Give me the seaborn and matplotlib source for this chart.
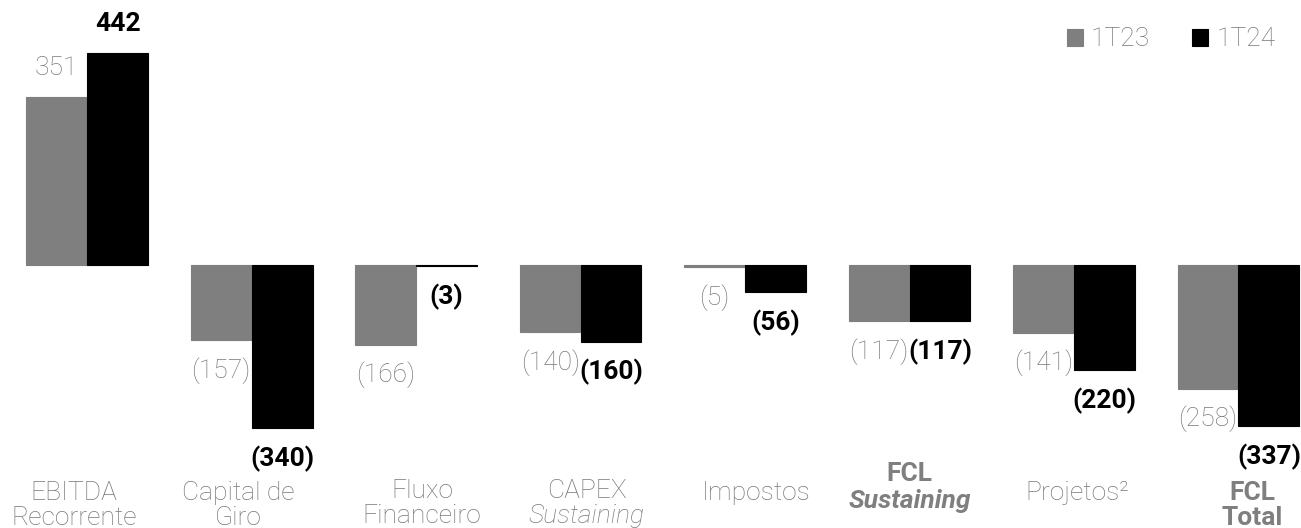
import pandas as pd
import matplotlib.pyplot as plt
import seaborn as sns

categorias = ['EBITDA Recorrente', 'Capital de Giro', 'Fluxo Financeiro', 'CAPEX Sustaining',
              'Impostos', 'FCL Sustaining', 'Projetos²', 'FCL Total']
periodos = ['1T23', '1T24']
valores_1t23 = [351, -157, -166, -140, -5, -117, -141, -258]
valores_1t24 = [442, -340, -3, -160, -56, -117, -220, -337]

# category labels, one entry per line: (text, style, weight, baseline px from top)
rotulos = [
    [('EBITDA', 'normal', 'light', 500), ('Recorrente', 'normal', 'light', 525)],
    [('Capital de', 'normal', 'light', 500), ('Giro', 'normal', 'light', 525)],
    [('Fluxo', 'normal', 'light', 498), ('Financeiro', 'normal', 'light', 523)],
    [('CAPEX', 'normal', 'light', 498), ('Sustaining', 'italic', 'light', 523)],
    [('Impostos', 'normal', 'light', 500)],
    [('FCL', 'normal', 'bold', 481), ('Sustaining', 'italic', 'bold', 508)],
    [('Projetos²', 'normal', 'light', 500)],
    [('FCL', 'normal', 'bold', 500), ('Total', 'normal', 'bold', 525)],
]
desloc_px = [-13, -13, 6, 6, 11, 0, 3, 14]

sns.set_theme(style='white')
plt.rcParams['font.family'] = ['Roboto', 'DejaVu Sans']

cinza = '#7f7f7f'
preto = '#000000'
texto_cinza = '#787878'

df = pd.DataFrame({
    'categoria': categorias * 2,
    'periodo': [periodos[0]] * len(categorias) + [periodos[1]] * len(categorias),
    'valor': valores_1t23 + valores_1t24,
})

fig = plt.figure(figsize=(13.01, 5.28), dpi=100)
ax = fig.add_axes([0, 0, 1, 1])
sns.barplot(data=df, x='categoria', y='valor', hue='periodo', palette=[cinza, preto],
            width=0.74, gap=0, saturation=1, errorbar=None, ax=ax)
# thin edge in the bar colour so the tiny bars (3), (5) stay visible
for p in ax.patches:
    p.set_edgecolor(p.get_facecolor())
    p.set_linewidth(0.8)

px = 0.479  # pixels per unit
zero = 265
passo = 164.6  # pixels per category
ax.set_ylim(-(528 - zero) / px, zero / px)
ax.set_xlim(-0.53, 7.38)
ax.axis('off')

dx = 0.74 / 4
fs = 19
for i, (a, b) in enumerate(zip(valores_1t23, valores_1t24)):
    for v, x, cor, peso in [(a, i - dx, texto_cinza, 'light'), (b, i + dx, preto, 'bold')]:
        txt = str(v) if v >= 0 else f'({abs(v)})'
        off = 21 if v >= 0 else -22
        ax.annotate(txt, (x, v), xytext=(0, off), textcoords='offset points',
                    ha='center', va='center', fontsize=fs, color=cor, fontweight=peso)

for i, linhas in enumerate(rotulos):
    for txt, estilo, peso, ypx in linhas:
        ax.text(i + desloc_px[i] / passo, (zero - ypx) / px, txt, ha='center', va='baseline',
                fontsize=fs, color=cinza if peso == 'bold' else texto_cinza,
                fontstyle=estilo, fontweight=peso)

h, l = ax.get_legend_handles_labels()
ax.legend(h, l, loc='upper right', bbox_to_anchor=(0.9985, 0.993), ncol=2, frameon=False,
          handlelength=0.6, handleheight=0.6, handletextpad=0.3,
          columnspacing=1.6, labelcolor=texto_cinza,
          prop={'family': ['Roboto', 'DejaVu Sans'], 'weight': 'light', 'size': fs})

fig.savefig('out.png', dpi=100)
